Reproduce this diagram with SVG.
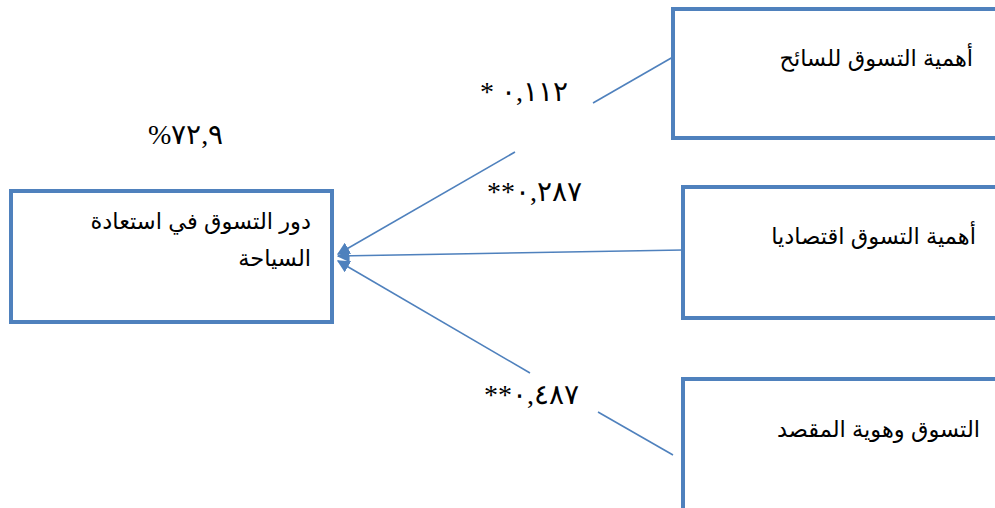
<svg xmlns="http://www.w3.org/2000/svg" width="995" height="508" viewBox="0 0 995 508">
<style>
.box{fill:#fff;stroke:#4F81BD;stroke-width:4}
.ln{fill:none;stroke:#4F81BD;stroke-width:1.6}
.ar{font-family:"Liberation Sans","DejaVu Sans",sans-serif;font-size:22.5px;fill:#000;text-anchor:end}
.num{font-family:"Liberation Serif","DejaVu Serif",serif;font-size:28px;fill:#000}
</style>
<defs>
<marker id="ah" viewBox="0 0 10 10" refX="9" refY="5" markerWidth="8" markerHeight="8" orient="auto" markerUnits="strokeWidth">
<path d="M0,0 L10,5 L0,10 Z" fill="#4F81BD"/>
</marker>
</defs>
<g id="connectors">
<line class="ln" x1="673" y1="57" x2="593" y2="103"/>
<line class="ln" x1="515" y1="152" x2="338" y2="254" marker-end="url(#ah)"/>
<line class="ln" x1="683" y1="250" x2="338" y2="256" marker-end="url(#ah)"/>
<line class="ln" x1="673" y1="455" x2="598" y2="412"/>
<line class="ln" x1="530" y1="373" x2="338" y2="261" marker-end="url(#ah)"/>
</g>
<g id="target">
<rect class="box" x="11" y="191" width="321" height="131"/>
<text class="ar" x="311" y="229">دور التسوق في استعادة</text>
<text class="ar" x="311" y="266">السياحة</text>
</g>
<g id="n1">
<rect class="box" x="673" y="9" width="330" height="129"/>
<text class="ar" x="973" y="66">أهمية التسوق للسائح</text>
</g>
<g id="n2">
<rect class="box" x="683" y="187" width="320" height="131"/>
<text class="ar" x="976" y="244">أهمية التسوق اقتصاديا</text>
</g>
<g id="n3">
<rect class="box" x="683" y="379" width="320" height="140"/>
<text class="ar" x="980" y="437">التسوق وهوية المقصد</text>
</g>
<g id="labels">
<text class="num" x="480" y="101" direction="ltr" unicode-bidi="bidi-override">* ٠,١١٢</text>
<text class="num" x="487" y="201" direction="ltr" unicode-bidi="bidi-override">**٠,٢٨٧</text>
<text class="num" x="484" y="404" direction="ltr" unicode-bidi="bidi-override">**٠,٤٨٧</text>
<text class="num" x="148" y="144" direction="ltr" unicode-bidi="bidi-override">%٧٢,٩</text>
</g>
</svg>
